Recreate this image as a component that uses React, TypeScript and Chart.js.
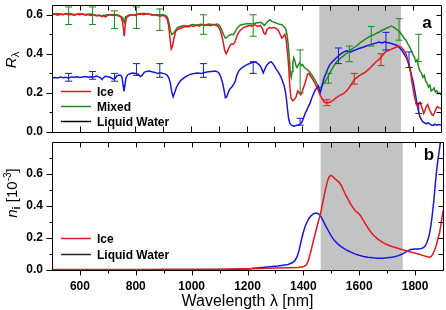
import React, { useEffect, useRef } from 'react';
import { Chart, registerables } from 'chart.js';

Chart.register(...registerables);

const FONT = 'Arial, "Liberation Sans", Helvetica, sans-serif';

const X_MIN = 500;
const X_MAX = 1900;
const X_LABELS = [600, 800, 1000, 1200, 1400, 1600, 1800];
const X_TICKS = [600, 700, 800, 900, 1000, 1100, 1200, 1300, 1400, 1500, 1600, 1700, 1800];
const TOP_Y_MAX = 0.65;
const TOP_Y_MAJOR = [0, 0.2, 0.4, 0.6];
const TOP_Y_MINOR = [0.1, 0.3, 0.5];
const BOT_Y_MAX = 0.8;
const BOT_Y_MAJOR = [0, 0.2, 0.4, 0.6];
const BOT_Y_MINOR = [0.1, 0.3, 0.5, 0.7];
const BAND: [number, number] = [1462, 1756];

const RED = '#e3181d';
const GREEN = '#1f8a1f';
const BLUE = '#1717e0';
const BAND_COLOR = '#c3c3c3';

type Pt = [number, number];
type Err = [number, number, number];

// Panel a: reflectance R_lambda
const ICE_R: Pt[] = [
  [500, .600], [510, .604], [520, .598], [530, .603], [540, .600], [550, .606], [560, .599], [570, .602], [580, .597], [590, .603],
  [600, .600], [610, .605], [620, .598], [630, .601], [640, .596], [650, .600], [660, .594], [670, .598], [680, .590], [686, .596],
  [692, .588], [700, .597], [710, .600], [720, .596], [730, .599], [740, .594], [748, .590], [753, .570], [757, .530], [760, .490],
  [763, .540], [767, .580], [772, .592], [780, .596], [790, .600], [800, .597], [810, .602], [820, .604], [830, .600], [840, .605],
  [850, .602], [860, .598], [870, .600], [880, .596], [890, .593], [900, .597], [908, .590], [914, .580], [919, .550], [924, .490],
  [929, .425], [934, .440], [939, .480], [945, .515], [952, .525], [960, .530], [970, .535], [980, .540], [990, .537], [1000, .545],
  [1010, .540], [1020, .547], [1030, .542], [1040, .550], [1050, .545], [1060, .548], [1070, .544], [1080, .550], [1090, .546], [1098, .540],
  [1104, .525], [1110, .500], [1116, .460], [1122, .415], [1127, .400], [1132, .415], [1138, .435], [1145, .450], [1152, .448], [1158, .460],
  [1165, .490], [1172, .510], [1180, .525], [1190, .535], [1200, .540], [1210, .545], [1220, .542], [1230, .548], [1240, .540], [1250, .545],
  [1257, .530], [1263, .505], [1268, .500], [1274, .525], [1282, .535], [1290, .532], [1300, .535], [1308, .528], [1315, .520], [1321, .500],
  [1327, .480], [1333, .490], [1338, .500], [1343, .470], [1348, .400], [1352, .330], [1356, .230], [1360, .175], [1366, .160], [1372, .165],
  [1378, .180], [1385, .210], [1390, .200], [1395, .190], [1400, .205], [1406, .230], [1413, .260], [1419, .295], [1424, .300], [1430, .288],
  [1438, .270], [1446, .250], [1455, .225], [1463, .195], [1472, .170], [1481, .152], [1490, .148], [1500, .152], [1510, .160], [1520, .172],
  [1530, .182], [1540, .190], [1550, .198], [1560, .210], [1570, .228], [1580, .250], [1588, .268], [1597, .278], [1606, .288], [1615, .296],
  [1623, .302], [1631, .310], [1640, .322], [1650, .335], [1660, .350], [1668, .362], [1677, .372], [1686, .385], [1694, .400], [1702, .412],
  [1712, .418], [1722, .424], [1732, .430], [1742, .436], [1750, .440], [1758, .432], [1766, .420], [1774, .400], [1780, .370], [1786, .335],
  [1791, .300], [1796, .250], [1802, .200], [1807, .165], [1812, .140], [1816, .130], [1820, .148], [1825, .152], [1829, .135], [1833, .118],
  [1838, .095], [1842, .110], [1847, .130], [1852, .140], [1857, .120], [1862, .105], [1867, .090], [1872, .085], [1877, .100], [1882, .118],
  [1887, .130], [1892, .125], [1900, .120],
];

const MIXED_R: Pt[] = [
  [500, .603], [520, .606], [540, .602], [560, .607], [580, .601], [600, .605], [620, .602], [640, .604], [660, .598], [680, .595],
  [700, .600], [720, .601], [740, .598], [755, .585], [760, .560], [765, .590], [780, .600], [800, .602], [820, .607], [840, .606],
  [860, .602], [880, .600], [900, .600], [910, .595], [916, .585], [921, .560], [926, .520], [931, .500], [937, .505], [944, .520],
  [952, .535], [962, .540], [975, .545], [990, .543], [1005, .550], [1020, .547], [1035, .552], [1050, .548], [1065, .553], [1080, .549],
  [1095, .552], [1103, .545], [1110, .525], [1117, .500], [1124, .480], [1130, .485], [1137, .495], [1145, .500], [1153, .498], [1160, .515],
  [1168, .535], [1178, .548], [1190, .552], [1205, .555], [1220, .553], [1235, .558], [1250, .562], [1258, .555], [1264, .545], [1270, .555],
  [1278, .568], [1285, .575], [1292, .565], [1300, .562], [1310, .556], [1318, .552], [1327, .550], [1334, .540], [1340, .530], [1345, .505],
  [1350, .450], [1354, .380], [1358, .300], [1361, .280], [1364, .310], [1367, .355], [1370, .380], [1374, .365], [1378, .340], [1382, .330],
  [1387, .345], [1392, .355], [1397, .340], [1402, .345], [1408, .330], [1414, .325], [1420, .318], [1427, .308], [1435, .292], [1444, .272],
  [1452, .252], [1458, .235], [1463, .225], [1468, .228], [1473, .240], [1478, .250], [1485, .262], [1492, .280], [1499, .300], [1507, .320],
  [1515, .340], [1524, .358], [1533, .372], [1542, .382], [1551, .392], [1560, .402], [1570, .415], [1580, .425], [1590, .435], [1600, .445],
  [1610, .458], [1620, .468], [1631, .478], [1642, .488], [1655, .496], [1667, .505], [1678, .512], [1690, .522], [1702, .530], [1714, .538],
  [1722, .542], [1730, .536], [1738, .528], [1745, .520], [1752, .512], [1760, .495], [1767, .480], [1774, .470], [1780, .452], [1786, .438],
  [1792, .420], [1798, .400], [1804, .385], [1809, .360], [1814, .370], [1820, .330], [1825, .310], [1830, .300], [1835, .280], [1840, .290],
  [1845, .260], [1850, .250], [1855, .230], [1860, .240], [1865, .210], [1870, .215], [1875, .225], [1880, .205], [1885, .210], [1890, .195],
  [1895, .200], [1900, .190],
];

const WATER_R: Pt[] = [
  [500, .276], [510, .279], [520, .277], [530, .281], [540, .278], [550, .280], [560, .277], [570, .282], [580, .280], [590, .283],
  [600, .279], [610, .282], [620, .284], [630, .280], [640, .283], [650, .281], [660, .286], [668, .282], [675, .276], [680, .268],
  [685, .278], [692, .285], [700, .283], [710, .280], [718, .272], [725, .270], [732, .285], [740, .292], [748, .290], [752, .280],
  [756, .240], [759, .208], [762, .235], [766, .275], [772, .292], [780, .298], [790, .302], [800, .300], [810, .296], [818, .284],
  [824, .290], [832, .305], [840, .310], [850, .312], [860, .308], [870, .305], [880, .300], [890, .303], [900, .300], [908, .296],
  [915, .290], [921, .275], [926, .250], [931, .205], [936, .180], [941, .200], [947, .225], [954, .245], [962, .262], [970, .272],
  [980, .282], [990, .290], [1000, .296], [1012, .300], [1024, .302], [1037, .300], [1050, .305], [1062, .308], [1075, .310], [1087, .312],
  [1096, .308], [1102, .298], [1108, .280], [1114, .250], [1119, .215], [1124, .175], [1129, .180], [1135, .205], [1141, .222], [1148, .232],
  [1154, .245], [1160, .262], [1165, .290], [1172, .312], [1180, .325], [1190, .335], [1202, .345], [1214, .352], [1226, .358], [1236, .355],
  [1245, .345], [1251, .335], [1256, .318], [1260, .302], [1264, .315], [1269, .332], [1275, .345], [1282, .355], [1288, .360], [1294, .352],
  [1300, .338], [1307, .322], [1314, .308], [1320, .292], [1326, .275], [1331, .255], [1336, .235], [1340, .205], [1344, .165], [1348, .110],
  [1352, .065], [1356, .045], [1362, .035], [1370, .030], [1378, .033], [1386, .036], [1393, .040], [1399, .050], [1405, .070], [1411, .095],
  [1417, .112], [1422, .128], [1428, .145], [1434, .170], [1440, .192], [1446, .210], [1452, .225], [1458, .235], [1462, .215], [1465, .200],
  [1469, .220], [1474, .250], [1479, .275], [1486, .300], [1493, .325], [1500, .345], [1508, .358], [1516, .370], [1524, .380], [1533, .392],
  [1542, .402], [1551, .410], [1560, .416], [1568, .412], [1576, .410], [1584, .416], [1592, .420], [1600, .425], [1610, .430], [1620, .434],
  [1631, .440], [1642, .446], [1654, .450], [1665, .455], [1677, .460], [1688, .456], [1697, .462], [1706, .458], [1715, .455], [1724, .452],
  [1732, .448], [1740, .444], [1748, .435], [1755, .425], [1762, .412], [1769, .395], [1775, .380], [1780, .362], [1785, .345], [1790, .315],
  [1795, .285], [1800, .255], [1805, .215], [1810, .175], [1815, .135], [1820, .100], [1825, .075], [1830, .062], [1836, .050], [1842, .046],
  [1848, .042], [1854, .048], [1860, .040], [1866, .036], [1872, .034], [1878, .040], [1884, .035], [1890, .038], [1900, .036],
];

// error bars: [wavelength, low, high]
const MIXED_ERR: Err[] = [
  [560, .55, .64], [646, .55, .64], [725, .53, .62], [804, .53, .64], [888, .52, .63], [1045, .50, .60], [1224, .49, .60],
  [1393, .20, .42], [1495, .25, .30], [1570, .36, .44], [1649, .44, .54], [1749, .47, .58], [1820, .36, .50],
];
const WATER_ERR: Err[] = [
  [560, .26, .30], [646, .27, .31], [725, .26, .30], [804, .29, .35], [888, .28, .35], [1045, .28, .35], [1224, .30, .36],
  [1393, .035, .07], [1531, .35, .43], [1702, .42, .51], [1785, .33, .41], [1820, .095, .145],
];
const ICE_ERR: Err[] = [
  [1489, .135, .165], [1588, .245, .30], [1684, .34, .40],
];

// Panel b: imaginary refractive index n_i [10^-3]
const ICE_N: Pt[] = [
  [500, .003], [600, .003], [700, .003], [800, .003], [900, .004], [1000, .004], [1100, .005], [1150, .006], [1200, .008], [1250, .010],
  [1300, .012], [1350, .014], [1380, .016], [1400, .020], [1410, .030], [1416, .050], [1422, .085], [1428, .125], [1437, .190], [1446, .250],
  [1453, .300], [1460, .340], [1467, .400], [1474, .460], [1480, .510], [1487, .560], [1493, .585], [1499, .592], [1505, .585], [1512, .572],
  [1520, .560], [1528, .548], [1535, .530], [1542, .505], [1549, .478], [1556, .455], [1563, .432], [1570, .410], [1578, .388], [1586, .370],
  [1593, .360], [1600, .350], [1606, .335], [1613, .315], [1620, .295], [1628, .272], [1636, .250], [1645, .230], [1656, .210], [1667, .193],
  [1680, .178], [1692, .165], [1705, .155], [1720, .145], [1735, .137], [1750, .130], [1765, .122], [1780, .114], [1798, .106], [1815, .098],
  [1830, .090], [1843, .083], [1852, .080], [1858, .085], [1864, .100], [1870, .125], [1876, .155], [1882, .195], [1888, .235], [1894, .300],
  [1900, .370],
];
const WATER_N: Pt[] = [
  [500, .001], [700, .001], [900, .002], [1000, .002], [1100, .003], [1150, .004], [1200, .007], [1231, .012], [1270, .018], [1309, .025],
  [1345, .035], [1360, .045], [1370, .060], [1378, .085], [1385, .125], [1392, .180], [1399, .230], [1406, .270], [1413, .300], [1420, .322],
  [1428, .340], [1437, .352], [1446, .356], [1453, .352], [1460, .342], [1468, .318], [1477, .285], [1488, .250], [1499, .215], [1512, .182],
  [1524, .162], [1535, .146], [1548, .132], [1560, .120], [1572, .110], [1584, .101], [1600, .092], [1615, .085], [1631, .080], [1650, .076],
  [1667, .074], [1685, .074], [1700, .076], [1715, .079], [1727, .083], [1740, .090], [1752, .098], [1763, .108], [1774, .120], [1782, .127],
  [1790, .130], [1800, .131], [1812, .132], [1822, .134], [1830, .140], [1836, .150], [1842, .170], [1847, .195], [1852, .230], [1857, .280],
  [1862, .350], [1867, .430], [1872, .530], [1877, .620], [1882, .690], [1887, .750], [1892, .820], [1900, .950],
];

const TOP_LEGEND = [
  { label: 'Ice', color: RED },
  { label: 'Mixed', color: GREEN },
  { label: 'Liquid Water', color: '#000' },
];
const BOT_LEGEND = [
  { label: 'Ice', color: RED },
  { label: 'Liquid Water', color: '#222' },
];

const toXY = (pts: Pt[]) => pts.map(([x, y]) => ({ x, y }));
const errToXY = (errs: Err[]) =>
  errs.flatMap(([x, lo, hi]) => [{ x, y: lo }, { x, y: hi }, { x, y: null as any }]);

type RichPart = { t: string; font: string; dy: number };

function drawRich(ctx: CanvasRenderingContext2D, cy: number, baseX: number, parts: RichPart[]) {
  // rotated text reading upward, centred at screen y = cy, baseline at screen x = baseX
  ctx.save();
  ctx.translate(baseX, cy);
  ctx.rotate(-Math.PI / 2);
  let total = 0;
  const widths = parts.map((p) => {
    ctx.font = p.font;
    const w = ctx.measureText(p.t).width;
    total += w;
    return w;
  });
  let x = -total / 2;
  ctx.fillStyle = '#000';
  ctx.textBaseline = 'alphabetic';
  ctx.textAlign = 'left';
  parts.forEach((p, i) => {
    ctx.font = p.font;
    ctx.fillText(p.t, x, p.dy);
    x += widths[i];
  });
  ctx.restore();
}

interface Decor {
  id: string;
  yMajor: number[];
  yMinor: number[];
  bottomOut: boolean;
  legend: { label: string; color: string }[];
  legendDy: number[];
  letter: string;
  letterDy: number;
  titleCenterY: number;
  titleBaseX: number;
  title: RichPart[];
}

function decorPlugin(d: Decor) {
  return {
    id: d.id,
    beforeDatasetsDraw(chart: any) {
      const { ctx, chartArea: a } = chart;
      const xs = chart.scales.x;
      const x0 = xs.getPixelForValue(BAND[0]);
      const x1 = xs.getPixelForValue(BAND[1]);
      ctx.save();
      ctx.fillStyle = BAND_COLOR;
      ctx.fillRect(x0, a.top, x1 - x0, a.bottom - a.top);
      ctx.restore();
    },
    afterDraw(chart: any) {
      const { ctx, chartArea: a } = chart;
      const xs = chart.scales.x;
      const ys = chart.scales.y;
      const L = a.left + 0.5;
      const R = a.right + 0.5;
      const T = a.top + 0.5;
      const B = a.bottom + 0.5;
      ctx.save();
      ctx.strokeStyle = '#000';
      ctx.lineWidth = 1;
      ctx.beginPath();
      ctx.rect(L, T, R - L, B - T);
      for (const v of X_TICKS) {
        const px = Math.round(xs.getPixelForValue(v)) + 0.5;
        const major = v % 200 === 0;
        ctx.moveTo(px, T);
        ctx.lineTo(px, T + 5);
        if (d.bottomOut) {
          ctx.moveTo(px, B);
          ctx.lineTo(px, B + (major ? 5 : 3));
        } else {
          ctx.moveTo(px, B);
          ctx.lineTo(px, B - 6);
        }
      }
      const yt: [number, number][] = [
        ...d.yMajor.map((v) => [v, 6] as [number, number]),
        ...d.yMinor.map((v) => [v, 3] as [number, number]),
      ];
      for (const [v, len] of yt) {
        const py = Math.round(ys.getPixelForValue(v)) + 0.5;
        ctx.moveTo(L - len, py);
        ctx.lineTo(L, py);
        ctx.moveTo(R - 5, py);
        ctx.lineTo(R, py);
      }
      ctx.stroke();

      // legend
      ctx.font = `bold 12px ${FONT}`;
      ctx.textBaseline = 'middle';
      ctx.textAlign = 'left';
      d.legend.forEach((item, i) => {
        const y = Math.round(a.top + d.legendDy[i]) + 0.5;
        ctx.beginPath();
        ctx.strokeStyle = item.color;
        ctx.lineWidth = 1.5;
        ctx.moveTo(a.left + 9, y);
        ctx.lineTo(a.left + 39, y);
        ctx.stroke();
        ctx.fillStyle = '#000';
        ctx.fillText(item.label, a.left + 45, y + 1);
      });

      // panel letter
      ctx.font = `bold 17px ${FONT}`;
      ctx.textAlign = 'center';
      ctx.textBaseline = 'middle';
      ctx.fillStyle = '#000';
      ctx.fillText(d.letter, a.right - 14, a.top + d.letterDy);
      ctx.restore();

      drawRich(ctx, d.titleCenterY, d.titleBaseX, d.title);
    },
  };
}

const tickFont = { family: FONT, size: 12, weight: 'bold' as const };

function yScale(max: number, major: number[]) {
  return {
    type: 'linear' as const,
    min: 0,
    max,
    afterFit: (s: any) => {
      s.width = 52;
      s.paddingTop = 0;
      s.paddingBottom = 0;
    },
    afterBuildTicks: (s: any) => {
      s.ticks = major.map((v) => ({ value: v }));
    },
    grid: { display: false, drawTicks: false },
    border: { display: false },
    ticks: {
      padding: 9,
      color: '#000',
      font: tickFont,
      callback: (v: any) => Number(v).toFixed(1),
    },
  };
}

function lineDs(pts: Pt[], color: string) {
  return {
    data: toXY(pts),
    borderColor: color,
    borderWidth: 1.5,
    pointRadius: 0,
    fill: false,
    tension: 0,
  };
}

function errDs(errs: Err[], color: string) {
  return {
    data: errToXY(errs),
    borderColor: color,
    borderWidth: 1,
    pointStyle: 'line' as const,
    pointRadius: 3.5,
    pointBorderColor: color,
    pointBorderWidth: 1,
    spanGaps: false,
    fill: false,
  };
}

export default function App() {
  const topRef = useRef<HTMLCanvasElement>(null);
  const botRef = useRef<HTMLCanvasElement>(null);

  useEffect(() => {
    Chart.defaults.color = '#000';
    Chart.defaults.font.family = FONT;

    const top = new Chart(topRef.current as HTMLCanvasElement, {
      type: 'line',
      data: {
        datasets: [
          errDs(ICE_ERR, RED),
          errDs(MIXED_ERR, GREEN),
          errDs(WATER_ERR, BLUE),
          lineDs(ICE_R, RED),
          lineDs(WATER_R, BLUE),
          lineDs(MIXED_R, GREEN),
        ] as any,
      },
      options: {
        responsive: false,
        animation: false,
        events: [],
        layout: { padding: { top: 3, right: 3, bottom: 8, left: 0 } },
        plugins: { legend: { display: false }, tooltip: { enabled: false } },
        scales: {
          x: {
            type: 'linear',
            min: X_MIN,
            max: X_MAX,
            display: false,
            afterFit: (s: any) => {
              s.paddingLeft = 0;
              s.paddingRight = 0;
            },
          },
          y: yScale(TOP_Y_MAX, TOP_Y_MAJOR),
        } as any,
      },
      plugins: [
        decorPlugin({
          id: 'decorA',
          yMajor: TOP_Y_MAJOR,
          yMinor: TOP_Y_MINOR,
          bottomOut: false,
          legend: TOP_LEGEND,
          legendDy: [86, 101, 116],
          letter: 'a',
          letterDy: 18,
          titleCenterY: 60,
          titleBaseX: 16,
          title: [
            { t: 'R', font: `italic 15px ${FONT}`, dy: 0 },
            { t: 'λ', font: `11px ${FONT}`, dy: 3 },
          ],
        }),
      ],
    });

    const bot = new Chart(botRef.current as HTMLCanvasElement, {
      type: 'line',
      data: {
        datasets: [lineDs(ICE_N, RED), lineDs(WATER_N, BLUE)] as any,
      },
      options: {
        responsive: false,
        animation: false,
        events: [],
        layout: { padding: { top: 2, right: 3, bottom: 0, left: 0 } },
        plugins: { legend: { display: false }, tooltip: { enabled: false } },
        scales: {
          x: {
            type: 'linear',
            min: X_MIN,
            max: X_MAX,
            afterFit: (s: any) => {
              s.height = 40;
              s.paddingLeft = 0;
              s.paddingRight = 0;
            },
            afterBuildTicks: (s: any) => {
              s.ticks = X_LABELS.map((v) => ({ value: v }));
            },
            grid: { display: false, drawTicks: false },
            border: { display: false },
            ticks: {
              padding: 9,
              color: '#000',
              font: tickFont,
              maxRotation: 0,
              autoSkip: false,
              callback: (v: any) => String(v),
            },
            title: {
              display: true,
              text: 'Wavelength λ [nm]',
              color: '#000',
              font: { family: FONT, size: 16, weight: 'normal', lineHeight: 1 },
              padding: { top: 0, bottom: 0 },
            },
          },
          y: yScale(BOT_Y_MAX, BOT_Y_MAJOR),
        } as any,
      },
      plugins: [
        decorPlugin({
          id: 'decorB',
          yMajor: BOT_Y_MAJOR,
          yMinor: BOT_Y_MINOR,
          bottomOut: true,
          legend: BOT_LEGEND,
          legendDy: [96, 112],
          letter: 'b',
          letterDy: 13,
          titleCenterY: 53,
          titleBaseX: 17,
          title: [
            { t: 'n', font: `italic 15px ${FONT}`, dy: 0 },
            { t: 'i', font: `bold 11px ${FONT}`, dy: 3 },
            { t: ' [10', font: `15px ${FONT}`, dy: 0 },
            { t: '-3', font: `10px ${FONT}`, dy: -6 },
            { t: ']', font: `15px ${FONT}`, dy: 0 },
          ],
        }),
      ],
    });

    return () => {
      top.destroy();
      bot.destroy();
    };
  }, []);

  return (
    <div style={{ position: 'absolute', left: 0, top: 0, width: 446, height: 310, background: '#fff' }}>
      <canvas ref={topRef} width={446} height={140} style={{ position: 'absolute', left: 0, top: 0, display: 'block' }} />
      <canvas ref={botRef} width={446} height={170} style={{ position: 'absolute', left: 0, top: 140, display: 'block' }} />
    </div>
  );
}
